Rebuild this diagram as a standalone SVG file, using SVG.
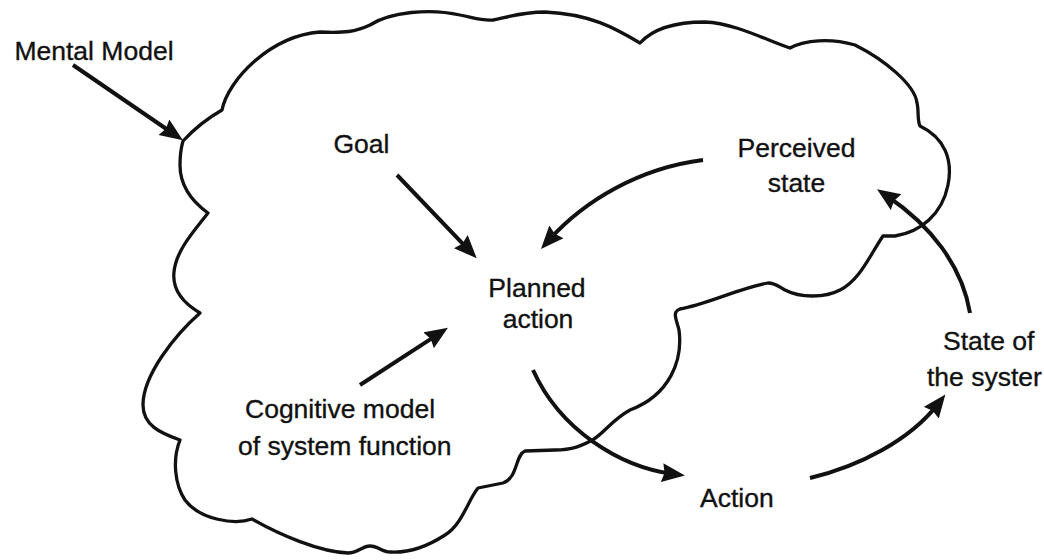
<svg xmlns="http://www.w3.org/2000/svg" width="1044" height="560" viewBox="0 0 1044 560">
  <style>
    .label { font-family: "Liberation Sans", Arial, sans-serif; font-size: 26.5px; fill: #111; stroke: #111; stroke-width: 0.35px; }
    .cloud { fill: none; stroke: #111; stroke-width: 3.3; stroke-linejoin: round; stroke-linecap: round; }
    .conn { fill: none; stroke: #111; stroke-width: 4; stroke-linecap: butt; marker-end: url(#head); }
  </style>
  <defs>
    <marker id="head" markerUnits="userSpaceOnUse" markerWidth="24" markerHeight="20" refX="11" refY="9.5" orient="auto">
      <path d="M0,0 L23,9.5 L0,19 L2.5,9.5 Z" fill="#111"/>
    </marker>
  </defs>
  <rect width="1044" height="560" fill="#fff"/>

  <!-- outline of the mental model -->
  <g id="mental-model-cloud">
    <path class="cloud" d="M183,141 C195,128 208,118 222,110
      C228,80 270,36 320,32 C345,33 355,32 370,25 C390,12 430,8 460,15
      C475,18 482,21 493,20 C505,18 520,12 545,12 C590,14 615,28 640,43
      C650,32 670,22 705,22 C735,23 770,42 790,48
      C805,40 830,38 855,45 C885,60 915,85 917,103 C919,110 917,120 920,126
      C945,138 953,160 948,185 C942,215 920,232 895,236 L883,236
      C870,255 860,280 840,290 C825,298 800,298 785,290 C778,286 775,283 768,283
      C740,288 705,305 680,309 C672,312 676,318 679,330
      C683,360 670,395 630,410 C612,420 605,432 594,439 C582,446 572,450 555,450
      L525,451 C515,455 518,478 503,483 L478,488
      C468,500 462,525 445,535 C425,548 405,553 390,552
      C382,552 378,546 370,546 C362,546 358,553 348,553 C320,552 280,535 252,519
      C235,525 200,520 185,500 C175,485 172,460 180,440
      C160,433 143,425 143,405 C143,375 175,335 200,313
      C183,303 172,290 174,272 C176,250 195,230 208,213
      C190,200 180,185 180,165 C180,155 181,148 183,141 Z"/>
  </g>

  <!-- arrows between the elements -->
  <g id="connectors">
    <path class="conn" d="M73,65 L173,133.5"/>
    <path class="conn" d="M397,175 L468.4,249.6"/>
    <path class="conn" d="M703,160 C640,168 585,200 549,240"/>
    <path class="conn" d="M360,385 L437.9,334.4"/>
    <path class="conn" d="M533,370 C560,430 620,467 673,474"/>
    <path class="conn" d="M810,478 C860,466 910,440 938,404"/>
    <path class="conn" d="M970,313 C962,265 930,225 887,196"/>
  </g>

  <g id="mental-model-label">
    <text class="label" x="94" y="60" text-anchor="middle">Mental Model</text>
  </g>
  <g id="goal">
    <text class="label" x="361.5" y="153" text-anchor="middle">Goal</text>
  </g>
  <g id="perceived-state">
    <text class="label" x="796.5" y="157" text-anchor="middle">Perceived</text>
    <text class="label" x="796.5" y="192" text-anchor="middle">state</text>
  </g>
  <g id="planned-action">
    <text class="label" x="537" y="297" text-anchor="middle">Planned</text>
    <text class="label" x="538" y="328" text-anchor="middle">action</text>
  </g>
  <g id="cognitive-model">
    <text class="label" x="245" y="418">Cognitive model</text>
    <text class="label" x="238" y="455">of system function</text>
  </g>
  <g id="action">
    <text class="label" x="700" y="507">Action</text>
  </g>
  <g id="system-state">
    <text class="label" x="943" y="350">State of</text>
    <text class="label" x="927" y="386">the syster</text>
  </g>
</svg>
